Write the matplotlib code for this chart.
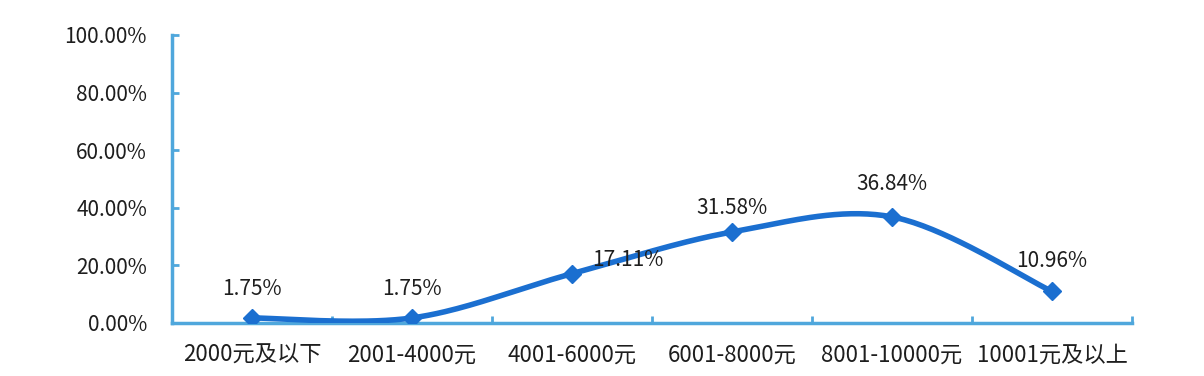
import numpy as np
import matplotlib.pyplot as plt

plt.rcParams['font.family'] = ['Noto Sans CJK SC', 'DejaVu Sans']

categories = ['2000元及以下', '2001-4000元', '4001-6000元', '6001-8000元', '8001-10000元', '10001元及以上']
values = [1.75, 1.75, 17.11, 31.58, 36.84, 10.96]
labels = ['1.75%', '1.75%', '17.11%', '31.58%', '36.84%', '10.96%']
yticks = [0, 20, 40, 60, 80, 100]

line_col = '#1b6fd0'
axis_col = '#4fa7dc'
text_col = '#1e1e1e'

fig = plt.figure(figsize=(12.04, 3.76), dpi=100)
ax = fig.add_axes([0.1429, 0.141, 0.7973, 0.766])
ax.set_xlim(-0.5, len(categories) - 0.5)
ax.set_ylim(0, 100)


def smooth(xs, ys, sx, sy, n=40):
    # excel style smoothing: cardinal spline in screen space
    px = np.array(xs) * sx
    py = np.array(ys) * sy
    outx, outy = [], []
    for i in range(len(px) - 1):
        p0 = (px[max(i - 1, 0)], py[max(i - 1, 0)])
        p1 = (px[i], py[i])
        p2 = (px[i + 1], py[i + 1])
        p3 = (px[min(i + 2, len(px) - 1)], py[min(i + 2, len(px) - 1)])
        c1 = (p1[0] + (p2[0] - p0[0]) / 6, p1[1] + (p2[1] - p0[1]) / 6)
        c2 = (p2[0] - (p3[0] - p1[0]) / 6, p2[1] - (p3[1] - p1[1]) / 6)
        t = np.linspace(0, 1, n)
        bx = (1-t)**3*p1[0] + 3*(1-t)**2*t*c1[0] + 3*(1-t)*t**2*c2[0] + t**3*p2[0]
        by = (1-t)**3*p1[1] + 3*(1-t)**2*t*c1[1] + 3*(1-t)*t**2*c2[1] + t**3*p2[1]
        outx.extend(bx)
        outy.extend(by)
    return np.array(outx) / sx, np.array(outy) / sy


x = np.arange(len(values))
cx, cy = smooth(x, values, 160.0, 2.88)
ax.plot(cx, cy, color=line_col, lw=4, solid_capstyle='round', zorder=3)
ax.plot(x, values, linestyle='none', marker='D', ms=9, color=line_col, zorder=4)

# label offsets in points (label centre relative to marker)
offsets = [(0, 21), (0, 21), (40, 10), (0, 17), (0, 24), (0, 22)]
for xi, v, lab, off in zip(x, values, labels, offsets):
    ax.annotate(lab, (xi, v), xytext=off, textcoords='offset points',
                ha='center', va='center', fontsize=15, color=text_col, zorder=5)

ax.set_yticks(yticks)
ax.set_yticklabels(['%.2f%%' % t for t in yticks], fontsize=15, color=text_col)
ax.set_xticks(x)
ax.set_xticklabels(categories, fontsize=16, color=text_col)
ax.set_xticks(np.arange(-0.5, len(categories)), minor=True)

for s in ['top', 'right']:
    ax.spines[s].set_visible(False)
for s in ['left', 'bottom']:
    ax.spines[s].set_color(axis_col)
    ax.spines[s].set_linewidth(2.5)

ax.tick_params(axis='x', which='major', length=0, pad=15)
ax.tick_params(axis='x', which='minor', direction='in', length=5, width=2, color=axis_col)
ax.tick_params(axis='y', direction='in', length=5, width=2, color=axis_col, pad=18)

fig.savefig('out.png', dpi=100)
